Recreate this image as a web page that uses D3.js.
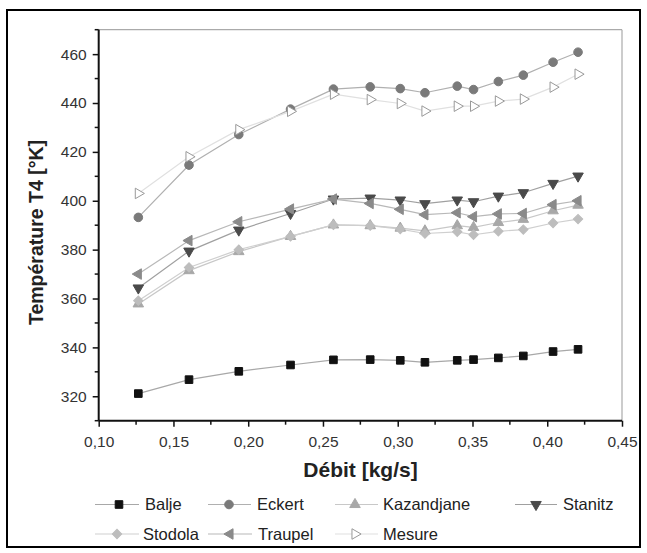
<!DOCTYPE html>
<html><head><meta charset="utf-8">
<script src="https://cdn.jsdelivr.net/npm/d3@7"></script>
<style>body{margin:0;background:#fff;}svg{display:block;font-family:"Liberation Sans",Arial,sans-serif;}</style>
</head><body>
<svg id="chart" width="647" height="553"></svg>
<script>
const debit = [0.1265,0.1604,0.1937,0.2283,0.2570,0.2816,0.3017,0.3182,0.3398,0.3507,0.3673,0.3840,0.4039,0.4206];
const balje      = [321.1,326.8,330.2,332.8,334.9,335.0,334.7,333.9,334.7,335.0,335.7,336.5,338.3,339.2];
const eckert     = [393.2,414.6,427.1,437.5,445.7,446.6,445.9,444.2,446.9,445.5,448.8,451.4,456.7,460.8];
const kazandjane = [357.8,371.4,379.2,385.4,390.1,389.8,388.8,387.7,389.8,389.1,391.1,392.4,395.9,398.2];
const stanitz    = [364.3,379.4,388.0,394.8,400.7,401.1,400.3,398.8,400.3,399.6,401.9,403.3,407.1,410.1];
const stodola    = [359.1,372.7,380.0,385.4,390.1,389.8,388.4,386.6,387.3,386.1,387.5,388.2,390.9,392.5];
const traupel    = [370.0,383.7,391.4,396.6,400.7,398.9,396.5,394.3,395.1,393.5,394.6,394.8,398.4,400.0];
const mesure     = [403.0,418.0,429.1,436.6,443.6,441.4,439.8,436.7,438.7,438.7,440.8,441.6,446.5,451.8];
const seriesNames = ["Balje","Eckert","Kazandjane","Stanitz","Stodola","Traupel","Mesure"];
const xTicks = [0.10,0.15,0.20,0.25,0.30,0.35,0.40,0.45];
const yTicks = [320,340,360,380,400,420,440,460];

const styles = {
  Balje:      {type:d3.symbolSquare,  rot:0,   size:58, fill:"#111", stroke:"#111", line:"#a8a8a8"},
  Eckert:     {type:d3.symbolCircle,  rot:0,   size:58, fill:"#7a7a7a", stroke:"#7a7a7a", line:"#b0b0b0"},
  Kazandjane: {type:d3.symbolTriangle,rot:0,   size:48, fill:"#a8a8a8", stroke:"#a8a8a8", line:"#c8c8c8"},
  Stanitz:    {type:d3.symbolTriangle,rot:180, size:48, fill:"#4a4a4a", stroke:"#4a4a4a", line:"#a0a0a0"},
  Stodola:    {type:d3.symbolSquare,  rot:45,  size:44, fill:"#bdbdbd", stroke:"#bdbdbd", line:"#cfcfcf"},
  Traupel:    {type:d3.symbolTriangle,rot:-90, size:48, fill:"#8a8a8a", stroke:"#8a8a8a", line:"#b8b8b8"},
  Mesure:     {type:d3.symbolTriangle,rot:90,  size:48, fill:"#fff", stroke:"#999", line:"#e0e0e0"}
};
const data = {Balje:balje,Eckert:eckert,Kazandjane:kazandjane,Stanitz:stanitz,Stodola:stodola,Traupel:traupel,Mesure:mesure};

const svg = d3.select("#chart");
const L=98.7, R=622, T=29.7, B=420.7;
const x = d3.scaleLinear().domain([0.10,0.45]).range([L,R]);
const y = d3.scaleLinear().domain([310,470]).range([B,T]);
const fmt = v => d3.format(".2f")(v).replace(".",",");

// outer border
svg.append("rect").attr("x",7).attr("y",10).attr("width",633).attr("height",537)
  .attr("fill","none").attr("stroke","#000").attr("stroke-width",2);

// frame top/right
svg.append("line").attr("x1",L).attr("x2",R).attr("y1",T).attr("y2",T).attr("stroke","#aaa").attr("stroke-width",1.2);
svg.append("line").attr("x1",R).attr("x2",R).attr("y1",T).attr("y2",B).attr("stroke","#aaa").attr("stroke-width",1.2);

// minor ticks
const xMinor = d3.range(0.125,0.45,0.05);
const yMinor = d3.range(310,471,20);
const gx = svg.append("g").attr("transform",`translate(0,${B})`);
gx.selectAll("line.mn").data(xMinor).join("line").attr("x1",d=>x(d)).attr("x2",d=>x(d)).attr("y1",0).attr("y2",4).attr("stroke","#111").attr("stroke-width",1.5);
const gy = svg.append("g").attr("transform",`translate(${L},0)`);
gy.selectAll("line.mn").data(yMinor).join("line").attr("y1",d=>y(d)).attr("y2",d=>y(d)).attr("x1",0).attr("x2",-4).attr("stroke","#111").attr("stroke-width",1.5);

// axes
const xAxis = d3.axisBottom(x).tickValues(xTicks).tickFormat(fmt).tickSize(6).tickPadding(6);
gx.call(xAxis);
const yAxis = d3.axisLeft(y).tickValues(yTicks).tickFormat(d3.format("d")).tickSize(6).tickPadding(6);
gy.call(yAxis);
[gx,gy].forEach(g=>{
  g.select(".domain").attr("stroke","#111").attr("stroke-width",2);
  g.selectAll(".tick line").attr("stroke","#111").attr("stroke-width",1.5);
  g.selectAll(".tick text").attr("fill","#333").style("font-size","15.5px").style("font-family","'Liberation Sans',Arial,sans-serif");
});
gx.select(".domain").attr("d",`M${L},0H${R}`);
gy.select(".domain").attr("d",`M0,${B}V${T}`);
gx.selectAll(".tick text").attr("dy","0.9em");

// titles
svg.append("text").attr("x",360.5).attr("y",477).attr("text-anchor","middle")
  .style("font-weight","bold").style("font-size","21px").attr("fill","#222").text("Débit [kg/s]");
svg.append("text").attr("transform","translate(43,232.5) rotate(-90)").attr("text-anchor","middle")
  .attr("textLength",185).attr("lengthAdjust","spacingAndGlyphs")
  .style("font-weight","bold").style("font-size","20px").attr("fill","#222").text("Température T4 [°K]");

// series
const line = d3.line().x((d,i)=>x(debit[i])).y(d=>y(d));
const sym = s => d3.symbol().type(styles[s].type).size(styles[s].size);
seriesNames.forEach(s=>{
  const st = styles[s];
  svg.append("path").datum(data[s]).attr("d",line).attr("fill","none").attr("stroke",st.line).attr("stroke-width",1.2);
});
seriesNames.forEach(s=>{
  const st = styles[s];
  svg.append("g").selectAll("path").data(data[s]).join("path")
    .attr("d",sym(s))
    .attr("transform",(d,i)=>`translate(${x(debit[i])},${y(d)}) rotate(${st.rot})`)
    .attr("fill",st.fill).attr("stroke",st.stroke).attr("stroke-width",1);
});

// legend
const legendPos = {
  Balje:[95,139,119,145,504.5], Eckert:[208,251,229,257,504.5], Kazandjane:[335,378,355,383,504.5], Stanitz:[515,557,536,563,504.5],
  Stodola:[95,139,117,143,534], Traupel:[208,252,230,258,534], Mesure:[335,378,355,383,534]
};
seriesNames.forEach(s=>{
  const st = styles[s], p = legendPos[s];
  const g = svg.append("g");
  g.append("line").attr("x1",p[0]).attr("x2",p[1]).attr("y1",p[4]).attr("y2",p[4]).attr("stroke",st.line).attr("stroke-width",1.2);
  g.append("path").attr("d",sym(s)).attr("transform",`translate(${p[2]},${p[4]}) rotate(${st.rot})`)
    .attr("fill",st.fill).attr("stroke",st.stroke).attr("stroke-width",1);
  g.append("text").attr("x",p[3]).attr("y",p[4]).attr("dy","0.36em").style("font-size","16.5px").attr("fill","#222").text(s);
});
</script>
</body></html>
